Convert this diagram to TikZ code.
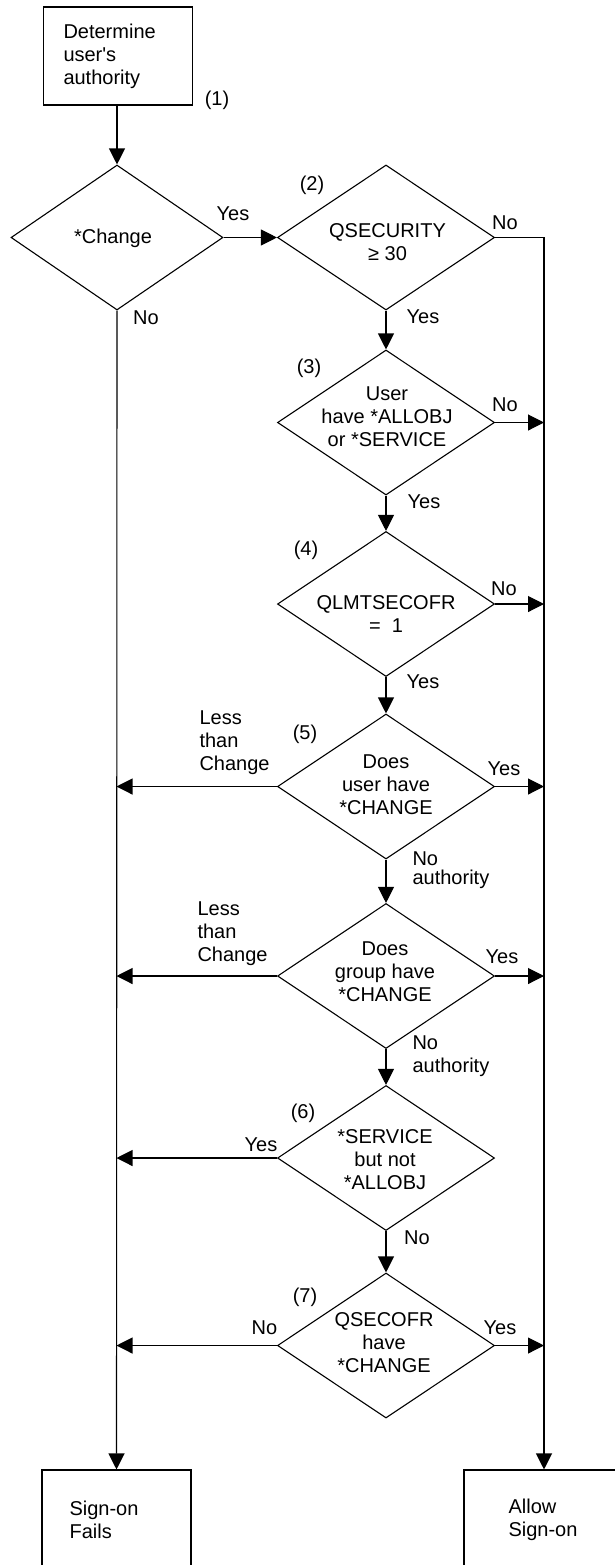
\documentclass[tikz,border=0pt]{standalone}
\usepackage{fontspec}
\setmainfont{Liberation Sans}
\usetikzlibrary{arrows.meta,shapes.geometric}
\newcommand\flowfont{\fontsize{10pt}{11.5pt}\selectfont}
\newcommand\tightfont{\fontsize{10pt}{9.5pt}\selectfont}
\begin{document}
\begin{tikzpicture}[x=0.5pt,y=-0.5pt,
  line width=0.55pt,
  every node/.style={inner sep=0pt,font=\flowfont},
  decision/.style={draw,shape=diamond,minimum width=108.5pt,minimum height=72.5pt},
  procbox/.style={draw,rectangle},
  txt/.style={align=center},
  ltxt/.style={align=left,anchor=west},
  flow/.style={-{Triangle[length=8pt,width=8pt]}}]
% page frame
\useasboundingbox (0,0) rectangle (615,1565);
\clip (0,0) rectangle (615,1565);

% start box
\node[procbox,align=left,text width=54.5pt,inner xsep=10pt,minimum height=49pt] (start) at (118,56)
  {Determine\\user\textquotesingle s\\authority};
\node (n1) at (217,100) {(1)};

% decisions
\node[decision,minimum width=106pt,minimum height=72.5pt] (d1) at (117,237.5) {};
\node[txt] (t1) at (113,238) {*Change};

\node[decision] (d2) at (386,237.5) {};
\node[txt] (t2) at (387.5,242) {QSECURITY\\≥ 30};
\node (n2) at (312,185) {(2)};

\node[decision] (d3) at (386,422.5) {};
\node[txt] (t3) at (387,417) {User\\have *ALLOBJ\\or *SERVICE};
\node (n3) at (309,368) {(3)};

\node[decision] (d4) at (386,604) {};
\node[txt] (t4) at (386,614) {QLMTSECOFR\\=\ \ 1};
\node (n4) at (306,550) {(4)};

\node[decision] (d5) at (386,786.5) {};
\node[txt] (t5) at (386,785) {Does\\user have\\*CHANGE};
\node (n5) at (305,734) {(5)};

\node[decision] (d6) at (386,976) {};
\node[txt] (t6) at (385,972) {Does\\group have\\*CHANGE};

\node[decision] (d7) at (386,1158) {};
\node[txt] (t7) at (385,1160) {*SERVICE\\but not\\*ALLOBJ};
\node (n6) at (303,1113) {(6)};

\node[decision] (d8) at (386,1345.5) {};
\node[txt] (t8) at (384,1343) {QSECOFR\\have\\*CHANGE};
\node (n7) at (305,1297) {(7)};

% end boxes
\node[procbox,minimum width=74.5pt,minimum height=70pt] (fail) at (116.5,1540) {};
\node[ltxt] (tfail) at (69,1520) {Sign-on\\Fails};
\node[procbox,minimum width=80pt,minimum height=70pt] (allow) at (544,1540) {};
\node[ltxt] (tallow) at (508,1520) {Allow\\Sign-on};

% branch labels
\node (y1) at (233,214) {Yes};
\node (no1) at (146,318) {No};
\node (no2) at (505,223) {No};
\node (y2) at (423,317) {Yes};
\node (no3) at (505,405) {No};
\node (y3) at (424,502) {Yes};
\node (no4) at (504,589) {No};
\node (y4) at (423,682) {Yes};
\node[ltxt] (l5) at (199,743) {Less\\than\\Change};
\node (y5) at (504,769) {Yes};
\node[ltxt,font=\tightfont] (na5) at (412,870) {No\\authority};
\node[ltxt] (l6) at (197,934) {Less\\than\\Change};
\node (y6) at (502,957) {Yes};
\node[ltxt] (na6) at (412,1056) {No\\authority};
\node (y7) at (261,1145) {Yes};
\node (no7) at (417,1238) {No};
\node (no8) at (264.5,1328) {No};
\node (y8) at (500,1328) {Yes};

% ends of side branches on the two collecting lines
\coordinate (R3) at (d3.east -| allow.north);
\coordinate (R4) at (d4.east -| allow.north);
\coordinate (R5) at (d5.east -| allow.north);
\coordinate (R6) at (d6.east -| allow.north);
\coordinate (R8) at (d8.east -| allow.north);
\coordinate (L5) at (d5.west -| fail.north);
\coordinate (L6) at (d6.west -| fail.north);
\coordinate (L7) at (d7.west -| fail.north);
\coordinate (L8) at (d8.west -| fail.north);

% connectors
\draw[flow] (start.south -| d1.north) -- (d1.north);
\draw[flow] (d1.east) -- (d2.west);
\draw[flow] (d1.south) -- (fail.north);
\draw[flow] (d2.east) -| (allow.north);
\draw[flow] (d2.south) -- (d3.north);
\draw[flow] (d3.south) -- (d4.north);
\draw[flow] (d4.south) -- (d5.north);
\draw[flow] (d5.south) -- (d6.north);
\draw[flow] (d6.south) -- (d7.north);
\draw[flow] (d7.south) -- (d8.north);
\draw[flow] (d3.east) -- (R3);
\draw[flow] (d4.east) -- (R4);
\draw[flow] (d5.east) -- (R5);
\draw[flow] (d6.east) -- (R6);
\draw[flow] (d8.east) -- (R8);
\draw[flow] (d5.west) -- (L5);
\draw[flow] (d6.west) -- (L6);
\draw[flow] (d7.west) -- (L7);
\draw[flow] (d8.west) -- (L8);
\end{tikzpicture}
\end{document}
